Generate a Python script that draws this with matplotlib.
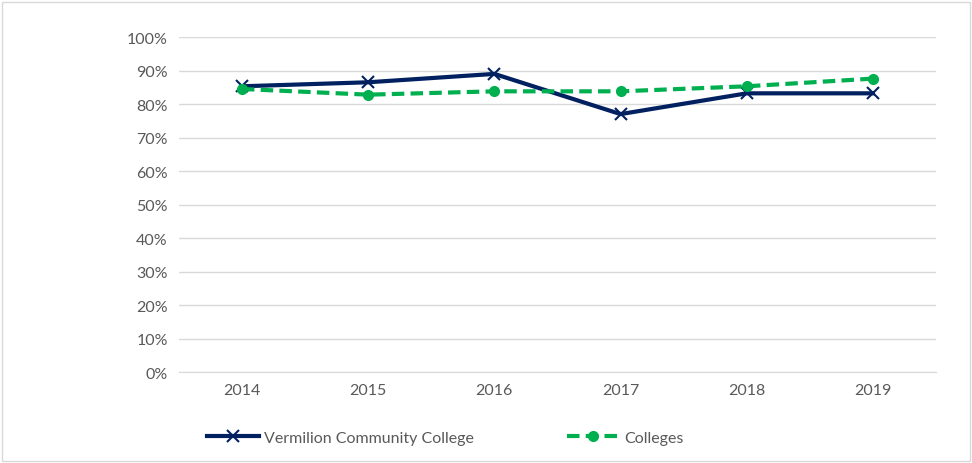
import matplotlib.pyplot as plt
from matplotlib.patches import Rectangle
from matplotlib.ticker import PercentFormatter

years = ['2014', '2015', '2016', '2017', '2018', '2019']
vermilion = [85.3, 86.5, 89.0, 77.0, 83.2, 83.2]
colleges = [84.5, 82.8, 83.8, 83.8, 85.3, 87.6]

plt.rcParams['font.family'] = ['Lato', 'DejaVu Sans']

fig = plt.figure(figsize=(9.72, 4.64), dpi=100)
ax = fig.add_axes([0.184, 0.196, 0.779, 0.722])

x = range(len(years))
ax.plot(x, vermilion, color='#002060', lw=3, marker='x', ms=9, mew=1.5,
        label='Vermilion Community College', zorder=3)
ax.plot(x, colleges, color='#00B050', lw=3, ls=(0, (3, 1.5)), marker='o', ms=7,
        label='Colleges', zorder=4)

ax.set_xlim(-0.5, len(years) - 0.5)
ax.set_ylim(0, 100)
ax.set_yticks(range(0, 101, 10))
ax.yaxis.set_major_formatter(PercentFormatter(decimals=0))
ax.set_xticks(list(x))
ax.set_xticklabels(years)
ax.grid(axis='y', color='#d9d9d9', lw=1)
ax.set_axisbelow(True)
for s in ['top', 'right', 'left']:
    ax.spines[s].set_visible(False)
ax.spines['bottom'].set_color('#d9d9d9')
ax.tick_params(length=0, labelsize=11.5, labelcolor='#595959', pad=8)

fig.legend(loc='center', bbox_to_anchor=(0.458, 0.055), ncol=2, frameon=False,
           fontsize=11.5, handlelength=3.3, columnspacing=5.8,
           labelcolor='#595959', handletextpad=0.3)

fig.patches.append(Rectangle((0.002, 0.004), 0.996, 0.99, transform=fig.transFigure,
                             fill=False, ec='#d9d9d9', lw=1))

fig.savefig('out.png', dpi=100)
